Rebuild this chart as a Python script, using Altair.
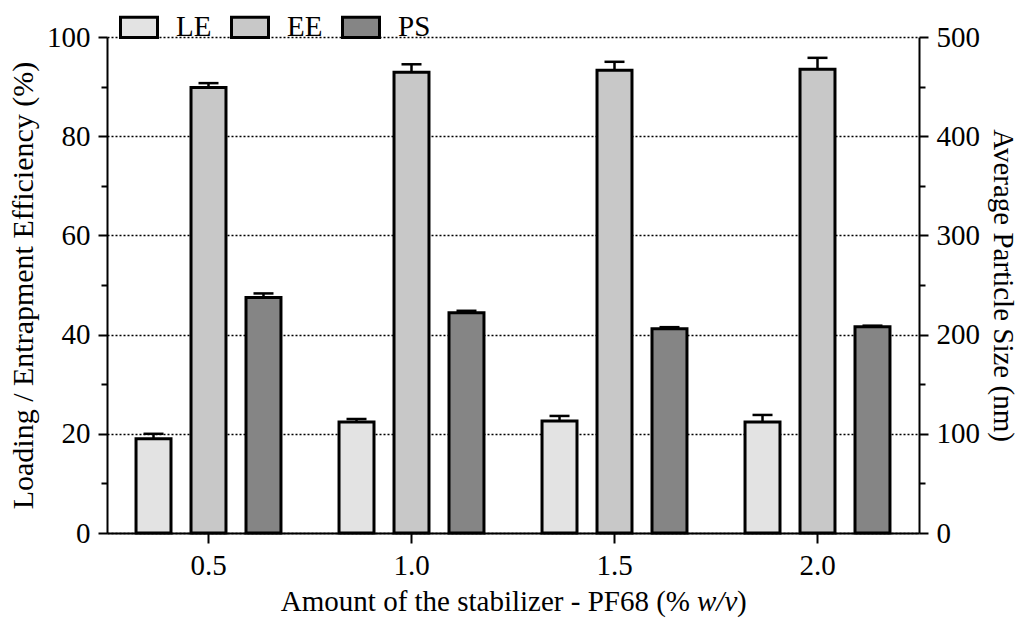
import altair as alt
import pandas as pd

# Stabilizer amounts (% w/v) and the three measured quantities
concentrations = ["0.5", "1.0", "1.5", "2.0"]
series = ["LE", "EE", "PS"]

le_mean = [19.0, 22.4, 22.6, 22.4]      # loading efficiency, %
le_err = [1.0, 0.6, 1.0, 1.4]
ee_mean = [89.8, 92.9, 93.3, 93.5]      # entrapment efficiency, %
ee_err = [0.9, 1.6, 1.7, 2.3]
ps_mean = [237.5, 222.0, 206.0, 208.0]  # average particle size, nm
ps_err = [4.0, 2.0, 1.5, 1.0]

fills = ["#e3e3e3", "#c8c8c8", "#858585"]

rows = []
for name, means, errs in [("LE", le_mean, le_err), ("EE", ee_mean, ee_err), ("PS", ps_mean, ps_err)]:
    for c, m, e in zip(concentrations, means, errs):
        rows.append({"conc": c, "series": name, "mean": m, "err": e})
df = pd.DataFrame(rows)

FONT = "Liberation Serif"
TICK_FS = 29
W, H = 812, 496

x_enc = alt.X(
    "conc:N", sort=concentrations,
    scale=alt.Scale(paddingInner=0.286, paddingOuter=0.143),
    axis=alt.Axis(title=None, labelAngle=0, labelFont=FONT, labelFontSize=TICK_FS, labelColor="black",
                  tickSize=10, tickColor="black", tickWidth=2, domainColor="black", domainWidth=2,
                  labelPadding=8, grid=False),
)
off_enc = alt.XOffset("series:N", sort=series,
                      scale=alt.Scale(domain=series, paddingInner=0.364, paddingOuter=0))

legend = alt.Legend(
    title=None, orient="none", legendX=12, legendY=-30, direction="horizontal",
    symbolType="M-1,-0.55H1V0.55H-1Z", symbolSize=1369, symbolStrokeColor="black",
    symbolStrokeWidth=3, symbolOpacity=1, labelFont=FONT, labelFontSize=TICK_FS,
    labelColor="black", labelOffset=17, columnPadding=13, padding=0,
)
fill_enc = alt.Fill("series:N", sort=series, scale=alt.Scale(domain=series, range=fills), legend=legend)


def y_axis(orient, top, major, minor, title, title_fs, grid):
    # one axis carries both the labelled major ticks and the short minor ticks
    is_major = f"datum.value % {major} === 0"
    props = dict(
        orient=orient, values=list(range(0, top + 1, minor)),
        labelExpr=f"{is_major} ? datum.label : ''", labelOverlap=False,
        tickSize={"condition": {"test": is_major, "value": 9}, "value": 6},
        tickWidth=2, tickColor="black", domainColor="black", domainWidth=2,
        labelFont=FONT, labelFontSize=TICK_FS, labelColor="black", labelPadding=8,
        title=title, titleFont=FONT, titleFontSize=title_fs, titleFontWeight="normal",
        titleColor="black", titlePadding=8, zindex=0,
    )
    if grid:
        props.update(grid=True, gridColor="black", gridDash=[2, 2], gridWidth=1.5,
                     gridOpacity={"condition": {"test": is_major, "value": 1}, "value": 0})
    else:
        props.update(grid=False)
    return alt.Axis(**props)


def group(names, top, axis):
    src = (alt.Chart(df)
           .transform_filter(alt.FieldOneOfPredicate(field="series", oneOf=names))
           .transform_calculate(top="datum.mean + datum.err"))
    y = alt.Y("mean:Q", scale=alt.Scale(domain=[0, top], nice=False), axis=axis)
    err = src.mark_rule(color="black", strokeWidth=2.5).encode(
        x=x_enc, xOffset=off_enc, y=y, y2="top:Q")
    cap = src.mark_tick(color="black", thickness=2.5, size=20, opacity=1).encode(
        x=x_enc, xOffset=off_enc, y=alt.Y("top:Q"))
    bars = src.mark_bar(stroke="black", strokeWidth=3).encode(
        x=x_enc, xOffset=off_enc, y=y, fill=fill_enc)
    return alt.layer(err, cap, bars)


left_axis = y_axis("left", 100, 20, 5, "Loading / Entrapment Efficiency (%)", 30, True)
right_axis = y_axis("right", 500, 100, 25, "Average Particle Size (nm)", 29, False)

# x-axis title with the italic "w/v"
TITLE_FS = 29
title_df = pd.DataFrame({"a": ["Amount of the stabilizer - PF68 (%"], "b": ["w/v"], "c": [")"]})
t_base = alt.Chart(title_df)
t_a = t_base.mark_text(font=FONT, fontSize=TITLE_FS, align="right", baseline="middle", color="black").encode(
    text="a:N", x=alt.value(583), y=alt.value(565))
t_b = t_base.mark_text(font=FONT, fontSize=TITLE_FS, fontStyle="italic", align="left", baseline="middle",
                       color="black").encode(text="b:N", x=alt.value(590), y=alt.value(565))
t_c = t_base.mark_text(font=FONT, fontSize=TITLE_FS, align="left", baseline="middle", color="black").encode(
    text="c:N", x=alt.value(630), y=alt.value(565))

left = alt.layer(group(["LE", "EE"], 100, left_axis), t_a, t_b, t_c)
right = group(["PS"], 500, right_axis)

chart = (
    alt.layer(left, right)
    .resolve_scale(y="independent")
    .properties(width=W, height=H, background="white",
                autosize=alt.AutoSizeParams(type="none"),
                padding={"left": 107, "top": 37, "right": 1036 - 107 - W, "bottom": 620 - 37 - H})
    .configure_view(stroke=None)
)

chart.save("out.html", embed_options={"renderer": "svg", "actions": False})
